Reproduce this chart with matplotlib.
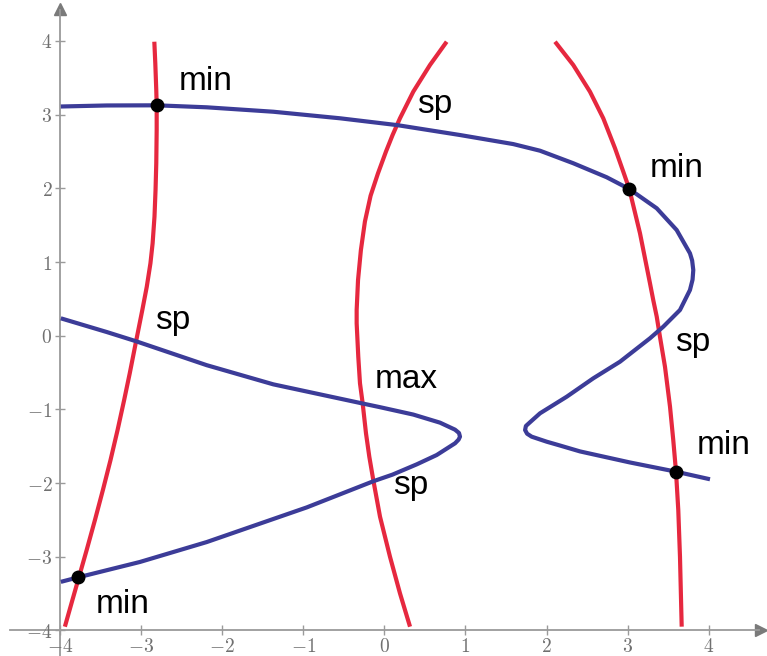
import numpy as np
import matplotlib.pyplot as plt

plt.rcParams['mathtext.fontset'] = 'cm'

# red curves (f_x = 0), three branches
red_left_x = [-2.837, -2.825, -2.813, -2.808, -2.808, -2.813, -2.822, -2.835, -2.858, -2.885, -2.930,
              -2.985, -3.063, -3.140, -3.209, -3.290, -3.377, -3.471, -3.569, -3.671, -3.767,
              -3.847, -3.940]
red_left_y = [3.989, 3.696, 3.334, 3.126, 2.791, 2.339, 1.977, 1.615, 1.254, 0.982, 0.665,
              0.349, -0.081, -0.510, -0.872, -1.279, -1.686, -2.093, -2.500, -2.907, -3.278,
              -3.586, -3.948]

red_mid_x = [0.768, 0.562, 0.356, 0.192, 0.100, 0.020, -0.080, -0.170, -0.240, -0.290, -0.325,
             -0.342, -0.342, -0.322, -0.301, -0.268, -0.227, -0.186, -0.137, -0.054, 0.069, 0.192, 0.316]
red_mid_y = [3.989, 3.673, 3.311, 2.950, 2.720, 2.500, 2.200, 1.900, 1.550, 1.160, 0.756,
             0.349, 0.168, -0.285, -0.646, -0.917, -1.324, -1.642, -1.958, -2.456, -2.999, -3.495, -3.948]

red_right_x = [2.104, 2.329, 2.535, 2.699, 2.844, 2.946, 3.020, 3.152, 3.275, 3.316, 3.358,
               3.398, 3.460, 3.522, 3.562, 3.596, 3.624, 3.645, 3.666]
red_right_y = [3.989, 3.673, 3.311, 2.950, 2.543, 2.225, 1.990, 1.389, 0.711, 0.480, 0.260,
               -0.014, -0.421, -0.963, -1.415, -1.845, -2.365, -2.999, -3.948]

# blue curves (f_y = 0)
blue_top_x = [-3.990, -3.424, -2.808, -2.191, -1.370, -0.547, 0.160, 0.932, 1.589, 1.919, 2.329,
              2.741, 3.020, 3.358, 3.604, 3.768, 3.795, 3.809, 3.800, 3.768, 3.645, 3.439, 3.275,
              2.905, 2.576, 2.248, 1.919, 1.800, 1.745, 1.735, 1.760, 1.816, 2.001, 2.165, 2.412,
              3.028, 3.596, 4.015]
blue_top_y = [3.110, 3.124, 3.126, 3.099, 3.039, 2.950, 2.857, 2.723, 2.600, 2.510, 2.340,
              2.150, 1.990, 1.729, 1.434, 1.118, 1.020, 0.891, 0.760, 0.620, 0.349, 0.122, -0.035,
              -0.353, -0.578, -0.828, -1.053, -1.170, -1.225, -1.280, -1.330, -1.370, -1.438, -1.490, -1.570,
              -1.720, -1.845, -1.948]

blue_low_x = [-3.990, -3.424, -3.063, -2.191, -1.370, -0.268, -0.054, 0.356, 0.686, 0.871, 0.920, 0.932,
              0.915, 0.871, 0.645, 0.400, 0.100, -0.137, -0.958, -2.191, -3.014, -3.774, -3.990]
blue_low_y = [0.236, 0.050, -0.075, -0.400, -0.660, -0.920, -0.970, -1.070, -1.180, -1.275, -1.320, -1.370,
              -1.410, -1.460, -1.619, -1.745, -1.885, -1.975, -2.330, -2.800, -3.070, -3.278, -3.340]

# critical points marked with dots
dot_x = [-2.808, 3.020, 3.596, -3.774]
dot_y = [3.126, 1.990, -1.845, -3.278]

labels = ['min', 'sp', 'min', 'sp', 'max', 'sp', 'min', 'sp', 'min']
label_x = [-2.541, 0.398, 3.275, -2.829, -0.124, 3.583, 3.851, 0.102, -3.556]
label_y = [3.334, 3.018, 2.157, 0.087, -0.714, -0.208, -1.609, -2.148, -3.758]

ticks = list(range(-4, 5))

red = '#e6283f'
blue = '#3c3c98'
axis_gray = '#9a9a9a'

fig = plt.figure(figsize=(7.67, 6.56), dpi=100)
ax = fig.add_axes([0, 0, 1, 1])
ax.set_xlim(-4.74, 4.718)
ax.set_ylim(-4.346, 4.555)

for s in ['top', 'right']:
    ax.spines[s].set_visible(False)
ax.spines['left'].set_position(('data', -4))
ax.spines['bottom'].set_position(('data', -4))
ax.spines['left'].set_bounds(-4.346, 4.42)
ax.spines['bottom'].set_bounds(-4.62, 4.62)
for s in ['left', 'bottom']:
    ax.spines[s].set_color(axis_gray)
    ax.spines[s].set_linewidth(1.3)
    ax.spines[s].set_zorder(1)

# arrow heads on the axes
ax.plot([-4], [4.43], marker='^', ms=9, color='#7a7a7a', clip_on=False, zorder=1)
ax.plot([4.64], [-4], marker='>', ms=9, color='#7a7a7a', clip_on=False, zorder=1)

ax.set_xticks(ticks)
ax.set_yticks(ticks)
ax.set_xticklabels(['$%d$' % t for t in ticks])
ax.set_yticklabels(['$%d$' % t for t in ticks])
ax.tick_params(direction='inout', length=7, width=1, color=axis_gray,
               labelcolor='#707070', labelsize=14)
ax.tick_params(axis='x', pad=1)
ax.tick_params(axis='y', pad=2)

line_kw = dict(lw=3, solid_capstyle='butt', solid_joinstyle='round')
ax.plot(red_left_x, red_left_y, color=red, zorder=2, **line_kw)
ax.plot(red_mid_x, red_mid_y, color=red, zorder=2, **line_kw)
ax.plot(red_right_x, red_right_y, color=red, zorder=2, **line_kw)
ax.plot(blue_top_x, blue_top_y, color=blue, zorder=3, **line_kw)
ax.plot(blue_low_x, blue_low_y, color=blue, zorder=3, **line_kw)

ax.plot(dot_x, dot_y, 'o', color='black', ms=9, zorder=4)

for t, x, y in zip(labels, label_x, label_y):
    ax.text(x, y, t, fontsize=24, family='Liberation Sans', ha='left', va='baseline')

fig.savefig('out.png', dpi=100)
